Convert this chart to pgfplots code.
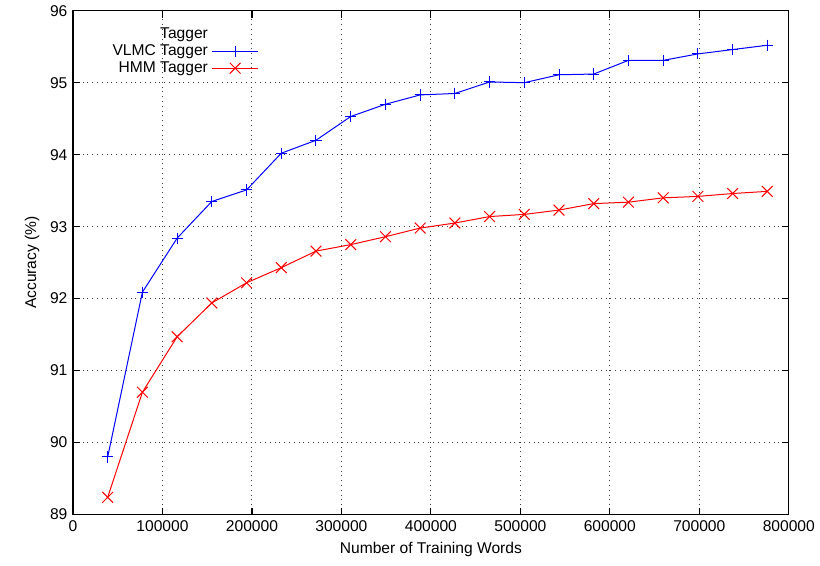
\documentclass[border=0pt]{standalone}
\usepackage{fontspec}
\setmainfont{Liberation Sans}
\usepackage{pgfplots}
\pgfplotsset{compat=1.18}

\begin{document}
\fontsize{7.8}{9}\selectfont
\begin{tikzpicture}
\begin{axis}[
  name=ax,
  scale only axis,
  width=358pt, height=252pt,
  xmin=0, xmax=800000,
  ymin=89, ymax=96,
  xtick={0,100000,...,800000},
  ytick={89,90,...,96},
  scaled x ticks=false,
  xticklabel style={/pgf/number format/fixed, /pgf/number format/1000 sep={}},
  /pgf/number format/assume math mode=true,
  tick align=inside,
  major tick length=3.5pt,
  tick style={black, line width=0.6pt},
  axis line style={line width=0.65pt},
  grid=major,
  grid style={dotted, black!75, line width=0.5pt},
  xlabel={Number of Training Words},
  ylabel={Accuracy (\%)},
  legend plot pos=right,
  legend cell align=right,
  legend style={draw=none, fill=none, at={(rel axis cs:0.268,0.982)}, anchor=north east,
    row sep=-2.2pt, font=\fontsize{7.8}{9}\selectfont,
    /tikz/every even column/.append style={column sep=3pt}},
  legend image code/.code={\draw[mark repeat=2,mark phase=2] plot coordinates {(0cm,0cm) (0.4cm,0cm) (0.8cm,0cm)};},
]
\addlegendimage{empty legend}
\addlegendentry{Tagger}
\addplot[color=blue, line width=0.5pt, mark=+, mark size=2.8pt] coordinates {
  (38800, 89.80)
  (77600, 92.09)
  (116400, 92.84)
  (155200, 93.35)
  (194000, 93.51)
  (232800, 94.02)
  (271600, 94.20)
  (310400, 94.53)
  (349200, 94.70)
  (388000, 94.83)
  (426800, 94.85)
  (465600, 95.01)
  (504400, 95.00)
  (543200, 95.11)
  (582000, 95.12)
  (620800, 95.31)
  (659600, 95.31)
  (698400, 95.40)
  (737200, 95.46)
  (776000, 95.52)
};
\addlegendentry{VLMC Tagger}
\addplot[color=red, line width=0.5pt, mark=x, mark size=3.8pt] coordinates {
  (38800, 89.24)
  (77600, 90.70)
  (116400, 91.47)
  (155200, 91.94)
  (194000, 92.22)
  (232800, 92.43)
  (271600, 92.66)
  (310400, 92.75)
  (349200, 92.86)
  (388000, 92.98)
  (426800, 93.05)
  (465600, 93.14)
  (504400, 93.17)
  (543200, 93.23)
  (582000, 93.32)
  (620800, 93.34)
  (659600, 93.40)
  (698400, 93.42)
  (737200, 93.46)
  (776000, 93.49)
};
\addlegendentry{HMM Tagger}
\end{axis}
\path ([shift={(-36.5pt,-25.5pt)}]ax.south west) rectangle ([shift={(15.5pt,5pt)}]ax.north east);
\end{tikzpicture}
\end{document}
